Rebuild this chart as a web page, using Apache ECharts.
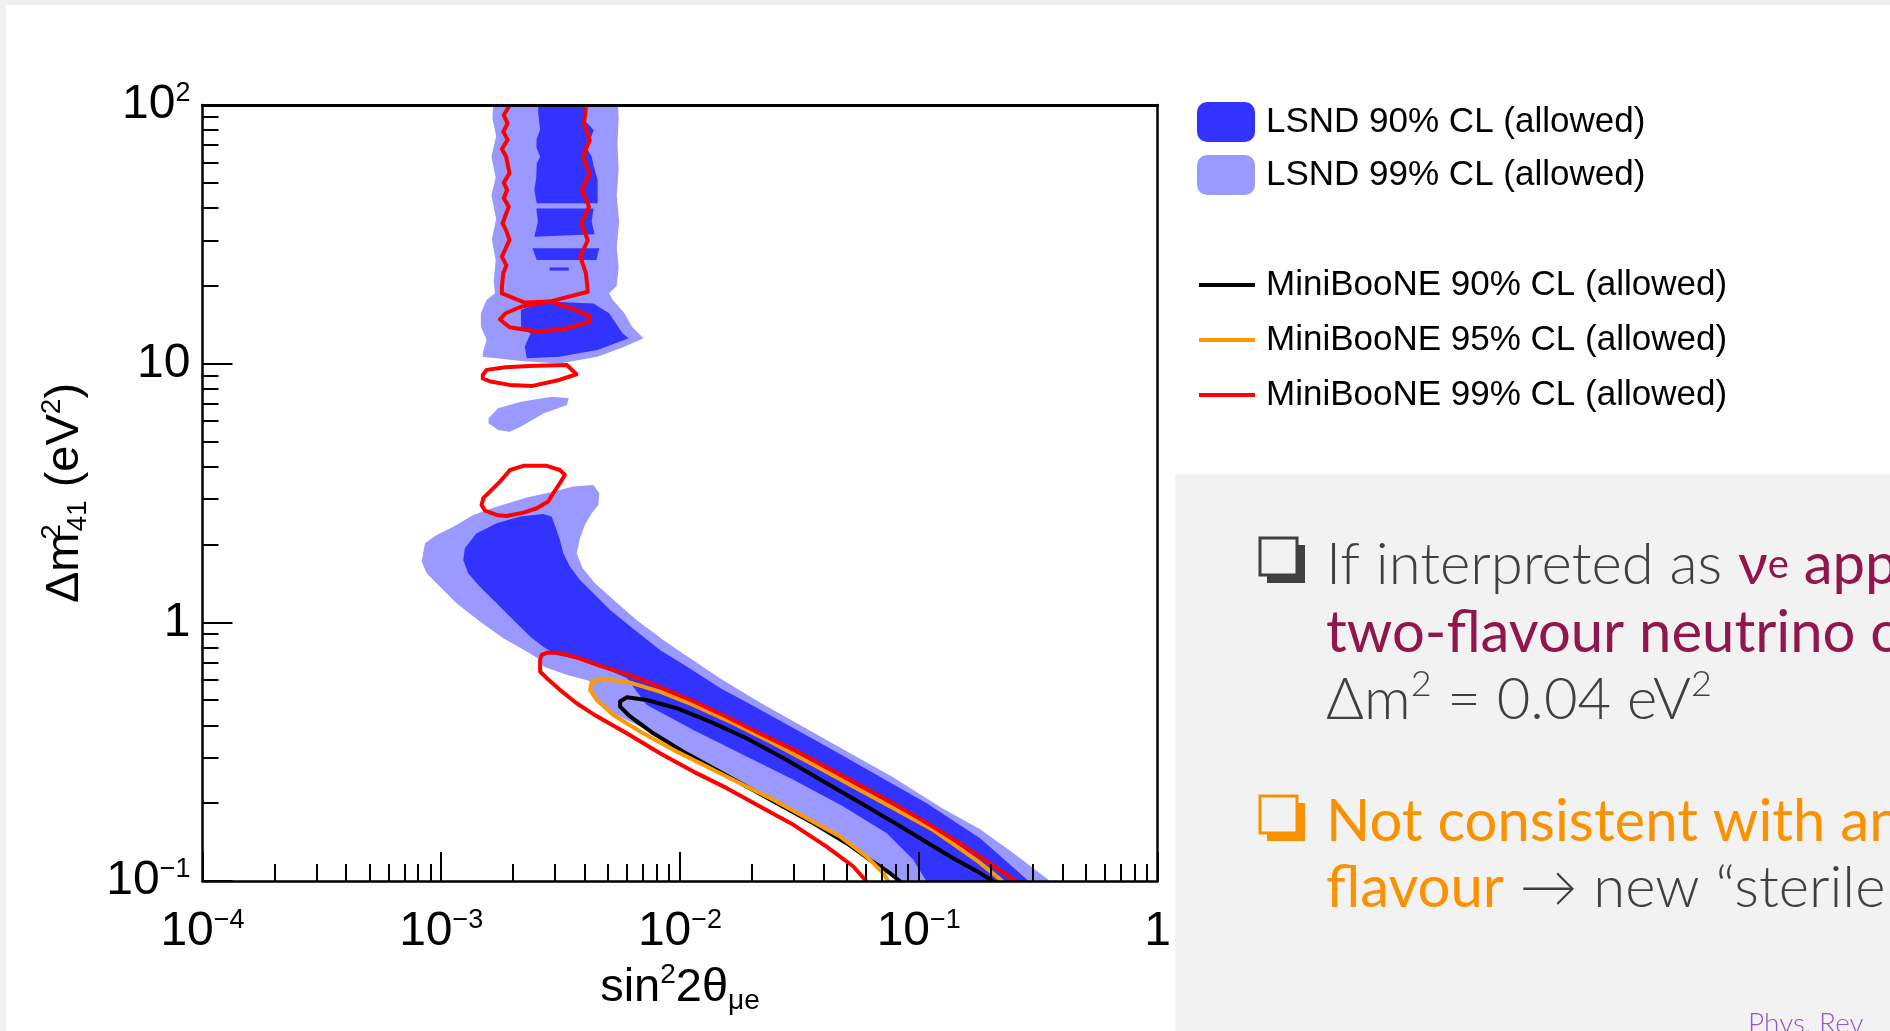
<!DOCTYPE html>
<html><head><meta charset="utf-8">
<script src="https://cdn.jsdelivr.net/npm/echarts@6/dist/echarts.min.js"></script>
<style>html,body{margin:0;padding:0;background:#fff;overflow:hidden}#c{width:1890px;height:1031px}</style>
</head><body><div id="c"></div>
<script>
// ---- Axis ticks ----
const xMajorTicks = [1e-4, 1e-3, 1e-2, 1e-1, 1];
const yMajorTicks = [0.1, 1, 10, 100];
const minorMultipliers = [2, 3, 4, 5, 6, 7, 8, 9];
const xDecades = [1e-4, 1e-3, 1e-2, 1e-1];
const yDecades = [0.1, 1, 10];

// ---- Contours: points are [log10(sin^2 2theta_mue), log10(dm^2_41 / eV^2)] ----
// LSND 99% CL (allowed) regions
const lsnd99Upper = [[-2.778,2.05],[-2.786,1.95],[-2.770,1.88],[-2.790,1.80],[-2.772,1.72],[-2.790,1.65],[-2.770,1.56],[-2.788,1.48],[-2.772,1.40],[-2.780,1.32],[-2.775,1.272],[-2.810,1.246],[-2.834,1.195],[-2.834,1.143],[-2.810,1.092],[-2.826,1.040],[-2.826,1.027],[-2.666,1.010],[-2.506,1.001],[-2.346,1.027],[-2.233,1.065],[-2.153,1.098],[-2.201,1.143],[-2.233,1.195],[-2.281,1.246],[-2.297,1.272],[-2.265,1.30],[-2.257,1.375],[-2.265,1.45],[-2.255,1.55],[-2.265,1.65],[-2.257,1.75],[-2.262,1.85],[-2.257,1.95],[-2.262,2.05]];
const lsnd99Blob = [[-2.802,0.789],[-2.762,0.828],[-2.666,0.853],[-2.538,0.872],[-2.466,0.866],[-2.474,0.840],[-2.570,0.808],[-2.666,0.757],[-2.714,0.737],[-2.762,0.744],[-2.802,0.770]];
const lsnd99Main = [[-3.082,0.235],[-3.068,0.306],[-3.019,0.338],[-2.949,0.370],[-2.866,0.415],[-2.768,0.447],[-2.642,0.483],[-2.531,0.505],[-2.447,0.525],[-2.363,0.531],[-2.338,0.499],[-2.342,0.454],[-2.370,0.422],[-2.398,0.377],[-2.419,0.325],[-2.433,0.267],[-2.408,0.209],[-2.356,0.151],[-2.279,0.087],[-2.182,0.009],[-2.070,-0.068],[-1.958,-0.139],[-1.833,-0.216],[-1.665,-0.310],[-1.386,-0.455],[-1.106,-0.600],[-0.900,-0.720],[-0.743,-0.800],[-0.600,-0.895],[-0.450,-1.0],[-0.380,-1.06],[-1.030,-1.06],[-1.078,-1.002],[-1.120,-0.970],[-1.204,-0.918],[-1.302,-0.854],[-1.441,-0.777],[-1.581,-0.706],[-1.721,-0.635],[-1.860,-0.564],[-1.986,-0.500],[-2.112,-0.429],[-2.321,-0.332],[-2.377,-0.261],[-2.370,-0.229],[-2.475,-0.203],[-2.573,-0.171],[-2.586,-0.145],[-2.642,-0.113],[-2.740,-0.062],[-2.838,0.003],[-2.936,0.074],[-3.005,0.138],[-3.061,0.190]];
// LSND 90% CL (allowed) regions
const lsnd90Band = [[-2.594,2.05],[-2.594,1.97],[-2.586,1.903],[-2.600,1.87],[-2.602,1.839],[-2.586,1.80],[-2.600,1.774],[-2.602,1.72],[-2.610,1.671],[-2.600,1.62],[-2.345,1.62],[-2.345,1.671],[-2.345,1.710],[-2.361,1.762],[-2.370,1.80],[-2.394,1.839],[-2.375,1.87],[-2.361,1.903],[-2.402,1.942],[-2.402,2.05]];
const lsnd90Patch1 = [[-2.602,1.600],[-2.362,1.600],[-2.370,1.55],[-2.358,1.50],[-2.610,1.491],[-2.595,1.55]];
const lsnd90Patch2 = [[-2.618,1.446],[-2.338,1.446],[-2.350,1.401],[-2.600,1.401]];
const lsnd90Patch3 = [[-2.546,1.372],[-2.466,1.372],[-2.466,1.360],[-2.546,1.360]];
const lsnd90Blob = [[-2.666,1.208],[-2.554,1.240],[-2.362,1.233],[-2.297,1.195],[-2.240,1.117],[-2.215,1.098],[-2.346,1.053],[-2.506,1.027],[-2.642,1.021],[-2.650,1.066],[-2.626,1.117],[-2.666,1.143]];
const lsnd90Main = [[-2.901,0.286],[-2.852,0.344],[-2.768,0.383],[-2.670,0.409],[-2.573,0.419],[-2.538,0.409],[-2.517,0.357],[-2.503,0.319],[-2.489,0.267],[-2.461,0.216],[-2.419,0.164],[-2.363,0.112],[-2.293,0.048],[-2.230,0.0],[-2.084,-0.107],[-1.972,-0.171],[-1.830,-0.255],[-1.700,-0.320],[-1.386,-0.480],[-0.967,-0.699],[-0.743,-0.835],[-0.540,-1.0],[-0.480,-1.06],[-0.930,-1.06],[-0.967,-1.002],[-1.023,-0.918],[-1.134,-0.815],[-1.316,-0.712],[-1.525,-0.609],[-1.721,-0.519],[-1.944,-0.416],[-2.140,-0.319],[-2.223,-0.215],[-2.363,-0.160],[-2.419,-0.146],[-2.517,-0.126],[-2.573,-0.094],[-2.628,-0.055],[-2.698,0.009],[-2.768,0.074],[-2.838,0.138],[-2.887,0.190],[-2.908,0.241]];
// MiniBooNE contours
const mb90Main = [[-2.251,-0.306],[-2.223,-0.290],[-2.140,-0.300],[-2.014,-0.332],[-1.874,-0.384],[-1.721,-0.448],[-1.553,-0.532],[-1.386,-0.622],[-1.218,-0.712],[-1.051,-0.803],[-0.950,-0.860],[-0.850,-0.915],[-0.760,-0.960],[-0.690,-1.0],[-0.620,-1.05],[-1.030,-1.05],[-1.078,-1.002],[-1.120,-0.970],[-1.204,-0.918],[-1.302,-0.854],[-1.441,-0.777],[-1.581,-0.706],[-1.721,-0.635],[-1.860,-0.564],[-1.986,-0.500],[-2.112,-0.429],[-2.209,-0.364],[-2.251,-0.326]];
const mb95Main = [[-2.370,-0.229],[-2.335,-0.220],[-2.223,-0.229],[-2.084,-0.268],[-1.944,-0.319],[-1.777,-0.390],[-1.609,-0.467],[-1.441,-0.551],[-1.274,-0.635],[-1.106,-0.719],[-0.939,-0.803],[-0.850,-0.860],[-0.750,-0.925],[-0.650,-1.0],[-0.600,-1.05],[-1.090,-1.05],[-1.127,-1.002],[-1.148,-0.970],[-1.218,-0.906],[-1.330,-0.828],[-1.469,-0.757],[-1.609,-0.686],[-1.749,-0.622],[-1.888,-0.557],[-2.028,-0.493],[-2.167,-0.422],[-2.279,-0.358],[-2.349,-0.300],[-2.377,-0.261]];
const mb99Main = [[-2.579,-0.126],[-2.558,-0.118],[-2.503,-0.118],[-2.419,-0.140],[-2.335,-0.168],[-2.223,-0.200],[-2.084,-0.250],[-1.944,-0.305],[-1.805,-0.365],[-1.665,-0.430],[-1.525,-0.492],[-1.386,-0.560],[-1.246,-0.630],[-1.106,-0.700],[-0.950,-0.785],[-0.827,-0.855],[-0.720,-0.920],[-0.595,-1.0],[-0.530,-1.05],[-1.170,-1.05],[-1.218,-1.002],[-1.274,-0.944],[-1.386,-0.867],[-1.525,-0.783],[-1.665,-0.712],[-1.804,-0.641],[-1.944,-0.577],[-2.084,-0.506],[-2.223,-0.429],[-2.363,-0.355],[-2.433,-0.313],[-2.503,-0.261],[-2.558,-0.216],[-2.586,-0.190],[-2.586,-0.145]];
const mb99Band = [[-2.717,2.05],[-2.717,1.994],[-2.738,1.960],[-2.722,1.929],[-2.740,1.897],[-2.722,1.865],[-2.746,1.830],[-2.728,1.800],[-2.714,1.736],[-2.738,1.700],[-2.724,1.671],[-2.738,1.640],[-2.717,1.607],[-2.743,1.543],[-2.726,1.510],[-2.714,1.478],[-2.746,1.414],[-2.727,1.380],[-2.740,1.349],[-2.746,1.298],[-2.746,1.272],[-2.650,1.236],[-2.546,1.240],[-2.386,1.278],[-2.394,1.349],[-2.405,1.380],[-2.418,1.414],[-2.386,1.478],[-2.400,1.510],[-2.413,1.543],[-2.381,1.607],[-2.396,1.640],[-2.410,1.671],[-2.378,1.736],[-2.395,1.770],[-2.406,1.800],[-2.378,1.865],[-2.390,1.897],[-2.402,1.929],[-2.394,1.994],[-2.394,2.05]];
const mb99Loop = [[-2.546,1.240],[-2.666,1.220],[-2.730,1.195],[-2.754,1.171],[-2.714,1.141],[-2.602,1.124],[-2.490,1.133],[-2.378,1.162],[-2.381,1.184],[-2.442,1.210]];
const mb99Ellipse = [[-2.826,0.956],[-2.810,0.976],[-2.730,0.986],[-2.634,0.991],[-2.474,0.995],[-2.434,0.959],[-2.506,0.937],[-2.618,0.914],[-2.714,0.918],[-2.794,0.931],[-2.826,0.943]];
const mb99Hex = [[-2.831,0.454],[-2.824,0.480],[-2.789,0.512],[-2.754,0.544],[-2.712,0.589],[-2.656,0.605],[-2.558,0.605],[-2.503,0.589],[-2.482,0.570],[-2.503,0.538],[-2.531,0.499],[-2.552,0.467],[-2.600,0.441],[-2.656,0.424],[-2.726,0.411],[-2.768,0.415],[-2.817,0.432]];

const seriesNames = ['LSND 90% CL (allowed)','LSND 99% CL (allowed)','MiniBooNE 90% CL (allowed)','MiniBooNE 95% CL (allowed)','MiniBooNE 99% CL (allowed)'];
const colors = { lsnd90:'#3333ff', lsnd99:'#9999ff', mb90:'#000000', mb95:'#ff9900', mb99:'#ff0000' };

const xMinorTicks = [], yMinorTicks = [];
xDecades.forEach(d => minorMultipliers.forEach(m => xMinorTicks.push(+(d*m).toPrecision(3))));
yDecades.forEach(d => minorMultipliers.forEach(m => yMinorTicks.push(+(d*m).toPrecision(3))));

const toVal = pts => pts.map(p => [Math.pow(10, p[0]), Math.pow(10, p[1])]);

function contour(name, color, shapes, fill) {
  const polys = shapes.map(s => toVal(s.pts));
  return {
    type: 'custom', name: name, coordinateSystem: 'cartesian2d', clip: true, silent: true,
    itemStyle: { color: color },
    data: shapes.map(s => {
      let sx = 0, sy = 0; s.pts.forEach(p => { sx += p[0]; sy += p[1]; });
      return [Math.pow(10, sx / s.pts.length), Math.pow(10, Math.min(1.99, Math.max(-0.99, sy / s.pts.length)))];
    }),
    renderItem: function (params, api) {
      const pts = polys[params.dataIndex].map(v => api.coord(v));
      const s = shapes[params.dataIndex];
      if (fill) return { type: 'polygon', shape: { points: pts }, style: { fill: color, stroke: null } };
      return { type: s.open ? 'polyline' : 'polygon', shape: { points: pts },
               style: { fill: null, stroke: color, lineWidth: 4, lineJoin: 'round' } };
    }
  };
}

const FONT = 'Liberation Sans';
const tickRich = {
  b: { fontFamily: FONT, fontSize: 48, lineHeight: 50, color: '#000' },
  s: { fontFamily: FONT, fontSize: 27, lineHeight: 28, verticalAlign: 'top', color: '#000' }
};
function expLabel(v, plainTen) {
  const e = Math.round(Math.log10(v));
  if (e === 0) return '{b|1}';
  if (e === 1 && plainTen) return '{b|10}';
  return '{b|10}{s|' + (e < 0 ? '\u2212' : '') + Math.abs(e) + '}';
}
const nameRich = {
  n: { fontFamily: FONT, fontSize: 47, lineHeight: 54, color: '#000' },
  sup: { fontFamily: FONT, fontSize: 28, lineHeight: 30, verticalAlign: 'top', color: '#000' },
  supz: { fontFamily: FONT, fontSize: 28, lineHeight: 30, width: 1, verticalAlign: 'top', color: '#000' },
  sub: { fontFamily: FONT, fontSize: 28, lineHeight: 30, verticalAlign: 'bottom', color: '#000' }
};

const chart = echarts.init(document.getElementById('c'), null, { renderer: 'canvas' });
const axisBase = { type: 'log', logBase: 10, z: 10, splitLine: { show: false }, minorTick: { show: false }, minorSplitLine: { show: false } };

const option = {
  animation: false,
  backgroundColor: '#f0f0f0',
  grid: { left: 202.5, top: 105, width: 955, height: 776, containLabel: false, outerBoundsMode: 'none' },
  xAxis: [
    Object.assign({}, axisBase, {
      min: 1e-4, max: 1, position: 'bottom',
      axisLine: { show: true, onZero: false, lineStyle: { color: '#000', width: 2.5 } },
      axisTick: { show: true, inside: true, length: 29, lineStyle: { color: '#000', width: 2 }, customValues: xMajorTicks },
      axisLabel: { show: true, customValues: xMajorTicks, margin: 26, hideOverlap: false, showMinLabel: true, showMaxLabel: true,
                   formatter: v => expLabel(v, false), rich: tickRich },
      name: '{n|sin}{sup|2}{n|2\u03b8}{sub|\u03bce}', nameLocation: 'middle', nameGap: 72,
      nameTextStyle: { rich: nameRich }
    }),
    Object.assign({}, axisBase, {
      min: 1e-4, max: 1, position: 'bottom',
      axisLine: { show: false, onZero: false },
      axisTick: { show: true, inside: true, length: 17, lineStyle: { color: '#000', width: 2 }, customValues: xMinorTicks },
      axisLabel: { show: false }
    }),
    Object.assign({}, axisBase, {
      min: 1e-4, max: 1, position: 'top',
      axisLine: { show: true, onZero: false, lineStyle: { color: '#000', width: 3 } },
      axisTick: { show: false }, axisLabel: { show: false }
    })
  ],
  yAxis: [
    Object.assign({}, axisBase, {
      min: 0.1, max: 100, position: 'left',
      axisLine: { show: true, onZero: false, lineStyle: { color: '#000', width: 2.5 } },
      axisTick: { show: true, inside: true, length: 30, lineStyle: { color: '#000', width: 2 }, customValues: yMajorTicks },
      axisLabel: { show: true, customValues: yMajorTicks, margin: 12, hideOverlap: false, showMinLabel: true, showMaxLabel: true,
                   formatter: v => expLabel(v, true), rich: tickRich },
      name: '{n|\u0394m}{supz|2}{sub|41}{n| (eV}{sup|2}{n|)}', nameLocation: 'middle', nameGap: 110, nameRotate: 90,
      nameTextStyle: { rich: nameRich }
    }),
    Object.assign({}, axisBase, {
      min: 0.1, max: 100, position: 'left',
      axisLine: { show: false, onZero: false },
      axisTick: { show: true, inside: true, length: 16, lineStyle: { color: '#000', width: 2 }, customValues: yMinorTicks },
      axisLabel: { show: false }
    }),
    Object.assign({}, axisBase, {
      min: 0.1, max: 100, position: 'right',
      axisLine: { show: true, onZero: false, lineStyle: { color: '#000', width: 2.5 } },
      axisTick: { show: false }, axisLabel: { show: false }
    })
  ],
  legend: [
    {
      orient: 'vertical', left: 1197, top: 102, padding: 0, itemGap: 13, itemWidth: 58, itemHeight: 40, selectedMode: false,
      textStyle: { fontFamily: FONT, fontSize: 35, lineHeight: 40, color: '#000', padding: [0, 0, 0, 6] },
      data: [
        { name: seriesNames[0], icon: 'roundRect', itemStyle: { color: colors.lsnd90 } },
        { name: seriesNames[1], icon: 'roundRect', itemStyle: { color: colors.lsnd99 } }
      ]
    },
    {
      orient: 'vertical', left: 1199, top: 265, padding: 0, itemGap: 15, itemWidth: 56, itemHeight: 4, selectedMode: false,
      textStyle: { fontFamily: FONT, fontSize: 35, lineHeight: 40, color: '#000', padding: [0, 0, 0, 6] },
      data: [
        { name: seriesNames[2], icon: 'rect', itemStyle: { color: colors.mb90 } },
        { name: seriesNames[3], icon: 'rect', itemStyle: { color: colors.mb95 } },
        { name: seriesNames[4], icon: 'rect', itemStyle: { color: colors.mb99 } }
      ]
    }
  ],
  graphic: [
    { type: 'rect', z: -100, silent: true, shape: { x: 6, y: 5, width: 1884, height: 1026 }, style: { fill: '#ffffff' } },
    { type: 'rect', z: -99, silent: true, shape: { x: 1175, y: 474, width: 715, height: 557 }, style: { fill: '#f2f2f2' } },
    // bullets
    { type: 'rect', z: 5, silent: true, shape: { x: 1267, y: 545, width: 38, height: 38 }, style: { fill: '#404040' } },
    { type: 'rect', z: 6, silent: true, shape: { x: 1260, y: 538, width: 37, height: 37 }, style: { fill: '#f2f2f2', stroke: '#404040', lineWidth: 3 } },
    { type: 'rect', z: 5, silent: true, shape: { x: 1267, y: 803, width: 38, height: 38 }, style: { fill: '#fa9200' } },
    { type: 'rect', z: 6, silent: true, shape: { x: 1260, y: 796, width: 37, height: 37 }, style: { fill: '#f2f2f2', stroke: '#fa9200', lineWidth: 3 } },
    { type: 'text', z: 6, silent: true, x: 1326, y: 565, style: {
        text: '{g|If interpreted as }{m|\u03bd}{ms|e}{m| app}', verticalAlign: 'middle',
        rich: {
          g: { fontFamily: 'Lato', fontWeight: 300, fontSize: 58, lineHeight: 68, fill: '#404040' },
          m: { fontFamily: 'Lato', fontWeight: 400, fontSize: 58, lineHeight: 68, fill: '#92164e' },
          ms: { fontFamily: 'Lato', fontWeight: 400, fontSize: 40, lineHeight: 68, fill: '#92164e' }
        } } },
    { type: 'text', z: 6, silent: true, x: 1326, y: 633, style: {
        text: 'two-flavour neutrino o', verticalAlign: 'middle',
        fontFamily: 'Lato', fontWeight: 400, fontSize: 58, fill: '#92164e' } },
    { type: 'text', z: 6, silent: true, x: 1326, y: 700, style: {
        text: '{g|\u0394m}{s|2}{g| = 0.04 eV}{s|2}', verticalAlign: 'middle',
        rich: {
          g: { fontFamily: 'Lato', fontWeight: 300, fontSize: 58, lineHeight: 68, fill: '#404040' },
          s: { fontFamily: 'Lato', fontWeight: 300, fontSize: 36, lineHeight: 40, verticalAlign: 'top', fill: '#404040' }
        } } },
    { type: 'text', z: 6, silent: true, x: 1326, y: 822, style: {
        text: 'Not consistent with an', verticalAlign: 'middle',
        fontFamily: 'Lato', fontWeight: 400, fontSize: 58, fill: '#fa9200' } },
    { type: 'text', z: 6, silent: true, x: 1326, y: 888, style: {
        text: '{o|flavour}{g| \u2192 new \u201csterile}', verticalAlign: 'middle',
        rich: {
          o: { fontFamily: 'Lato', fontWeight: 400, fontSize: 58, lineHeight: 68, fill: '#fa9200' },
          g: { fontFamily: 'Lato', fontWeight: 300, fontSize: 58, lineHeight: 68, fill: '#404040' }
        } } },
    { type: 'text', z: 6, silent: true, x: 1748, y: 1010, style: {
        text: 'Phys. Rev', verticalAlign: 'top', fontFamily: 'Lato', fontWeight: 300, fontSize: 28, fill: '#9955cc' } }
  ],
  series: [
    contour(seriesNames[1], colors.lsnd99, [{ pts: lsnd99Upper }, { pts: lsnd99Blob }, { pts: lsnd99Main }], true),
    contour(seriesNames[0], colors.lsnd90, [{ pts: lsnd90Band }, { pts: lsnd90Patch1 }, { pts: lsnd90Patch2 }, { pts: lsnd90Patch3 }, { pts: lsnd90Blob }, { pts: lsnd90Main }], true),
    contour(seriesNames[2], colors.mb90, [{ pts: mb90Main }], false),
    contour(seriesNames[3], colors.mb95, [{ pts: mb95Main }], false),
    contour(seriesNames[4], colors.mb99, [{ pts: mb99Band, open: true }, { pts: mb99Loop }, { pts: mb99Ellipse }, { pts: mb99Hex }, { pts: mb99Main }], false)
  ]
};
chart.setOption(option);
</script></body></html>
